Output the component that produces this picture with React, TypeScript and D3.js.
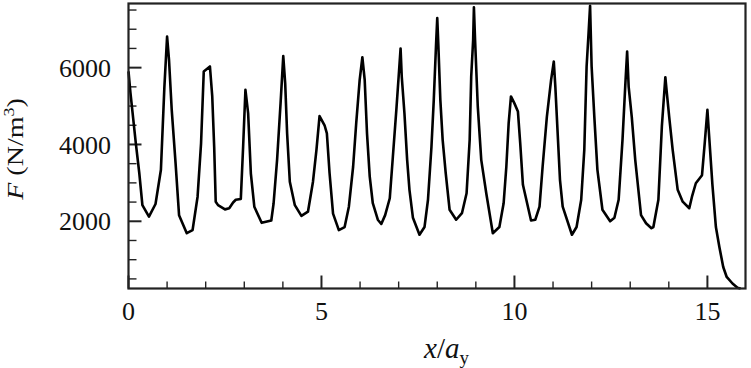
import * as d3 from 'd3'

const xs = [
  0, 0.05, 0.19, 0.28, 0.36, 0.53, 0.7, 0.84, 0.93, 1.0,
  1.05, 1.12, 1.22, 1.31, 1.51, 1.66, 1.79, 1.88, 1.95, 2.11,
  2.17, 2.22, 2.26, 2.32, 2.5, 2.61, 2.71, 2.78, 2.91, 2.97,
  3.03, 3.1, 3.17, 3.26, 3.45, 3.7, 3.76, 3.85, 3.94, 4.01,
  4.06, 4.11, 4.18, 4.31, 4.48, 4.65, 4.78, 4.87, 4.95, 5.08,
  5.14, 5.21, 5.3, 5.45, 5.6, 5.71, 5.82, 5.9, 5.99, 6.06,
  6.12, 6.18, 6.25, 6.33, 6.46, 6.55, 6.65, 6.77, 6.85, 6.94,
  7.0, 7.05, 7.08, 7.15, 7.22, 7.28, 7.37, 7.54, 7.67, 7.76,
  7.85, 7.91, 7.97, 8.0, 8.03, 8.08, 8.14, 8.22, 8.32, 8.49,
  8.64, 8.76, 8.84, 8.88, 8.93, 8.95, 8.98, 9.05, 9.14, 9.27,
  9.44, 9.61, 9.72, 9.79, 9.85, 9.91, 10.0, 10.09, 10.15, 10.22,
  10.43, 10.54, 10.65, 10.73, 10.84, 10.95, 11.02, 11.06, 11.12, 11.18,
  11.25, 11.49, 11.61, 11.73, 11.81, 11.87, 11.92, 11.96, 12.0, 12.07,
  12.15, 12.28, 12.48, 12.59, 12.7, 12.8, 12.87, 12.92, 12.96, 13.04,
  13.13, 13.28, 13.41, 13.55, 13.6, 13.73, 13.82, 13.91, 13.95, 14.01,
  14.1, 14.23, 14.36, 14.53, 14.6, 14.7, 14.86, 14.93, 15.0, 15.04,
  15.13, 15.22, 15.31, 15.41, 15.5, 15.65, 15.78, 15.86,
]

const forces = [
  5900, 5350, 4030, 3250, 2420, 2120, 2450, 3340, 5500, 6810,
  6200, 4900, 3510, 2160, 1690, 1770, 2640, 4030, 5900, 6030,
  5250, 3940, 2510, 2420, 2310, 2340, 2490, 2560, 2580, 3940,
  5420, 4810, 3250, 2380, 1960, 2020, 2470, 3600, 5070, 6300,
  5590, 4290, 3030, 2420, 2140, 2250, 3030, 3860, 4740, 4500,
  4290, 3250, 2200, 1770, 1850, 2380, 3420, 4550, 5680, 6270,
  5680, 4290, 3170, 2470, 2040, 1930, 2160, 2600, 3680, 4900,
  5770, 6500, 5770, 4810, 3600, 2820, 2090, 1650, 1850, 2560,
  3940, 5160, 6630, 7290, 6550, 5160, 4120, 3250, 2300, 2040,
  2210, 2730, 4120, 5770, 6720, 7570, 6720, 4990, 3600, 2730,
  1690, 1850, 2470, 3420, 4550, 5250, 5070, 4860, 4030, 2950,
  2020, 2040, 2380, 3420, 4720, 5680, 6160, 5500, 4290, 3080,
  2380, 1650, 1850, 2560, 3860, 6030, 6890, 7610, 6030, 4720,
  3340, 2300, 2000, 2090, 2560, 4120, 5500, 6420, 5500, 4720,
  3600, 2160, 1950, 1820, 1850, 2560, 4470, 5750, 5330, 4720,
  3860, 2820, 2510, 2340, 2640, 2990, 3200, 4030, 4900, 4290,
  2950, 1850, 1330, 810, 550, 380, 270, 250,
]

const xMajor = [0, 5, 10, 15]
const xMinor = [1, 2, 3, 4, 6, 7, 8, 9, 11, 12, 13, 14]
const yMajor = [2000, 4000, 6000]
const yMinor = [500, 1000, 1500, 2500, 3000, 3500, 4500, 5000, 5500, 6500, 7000, 7500]

const W = 751
const H = 368
const FONT = '"Liberation Serif", "Times New Roman", serif'

export default function App() {
  const x = d3.scaleLinear().domain([0, 16]).range([128.5, 746])
  const y = d3.scaleLinear().domain([250, 7670]).range([288.5, 3.5])

  const pts: [number, number][] = xs.map((v, i) => [v, forces[i]])
  const line = d3.line<[number, number]>()
    .x(d => x(d[0]))
    .y(d => y(d[1]))

  const [x0] = x.range()
  const [yb, yt] = y.range()

  return (
    <svg width={W} height={H} style={{ position: 'absolute', left: 0, top: 0, background: '#fff' }}
      fontFamily={FONT}>
      {/* y ticks, pointing into the plot */}
      {yMinor.map(v => (
        <line key={'ym' + v} x1={x0} x2={x0 + 8} y1={y(v)} y2={y(v)} stroke="#222" strokeWidth={1.4} />
      ))}
      {yMajor.map(v => (
        <line key={'yM' + v} x1={x0} x2={x0 + 13} y1={y(v)} y2={y(v)} stroke="#222" strokeWidth={2} />
      ))}
      {/* x ticks */}
      {xMinor.map(v => (
        <line key={'xm' + v} x1={x(v)} x2={x(v)} y1={yb} y2={yb - 7} stroke="#222" strokeWidth={1.4} />
      ))}
      {xMajor.map(v => (
        <line key={'xM' + v} x1={x(v)} x2={x(v)} y1={yb} y2={yb - 13} stroke="#222" strokeWidth={2} />
      ))}

      <path d={line(pts) ?? ''} fill="none" stroke="#000" strokeWidth={2.6} strokeLinejoin="round" />

      <rect x={x0} y={yt} width={745.5 - x0} height={yb - yt} fill="none" stroke="#222" strokeWidth={2.2} />

      {yMajor.map(v => (
        <text key={'yl' + v} x={111} y={y(v)} dy="0.35em" textAnchor="end" fontSize={26} fill="#111">
          {v}
        </text>
      ))}
      {xMajor.map(v => (
        <text key={'xl' + v} x={x(v)} y={320} textAnchor="middle" fontSize={26} fill="#111">
          {v}
        </text>
      ))}

      {/* axis titles */}
      <text x={424} y={358} fontSize={29} fill="#111">
        <tspan fontStyle="italic">x</tspan>/<tspan fontStyle="italic">a</tspan>
        <tspan fontSize={19} dy={6}>y</tspan>
      </text>
      <text transform="translate(23,149) rotate(-90) scale(1,0.82)" textAnchor="middle" fontSize={28} fill="#111">
        <tspan fontStyle="italic">F</tspan> (N/m<tspan fontSize={18} dy={-11}>3</tspan>
        <tspan dy={11}>)</tspan>
      </text>
    </svg>
  )
}
